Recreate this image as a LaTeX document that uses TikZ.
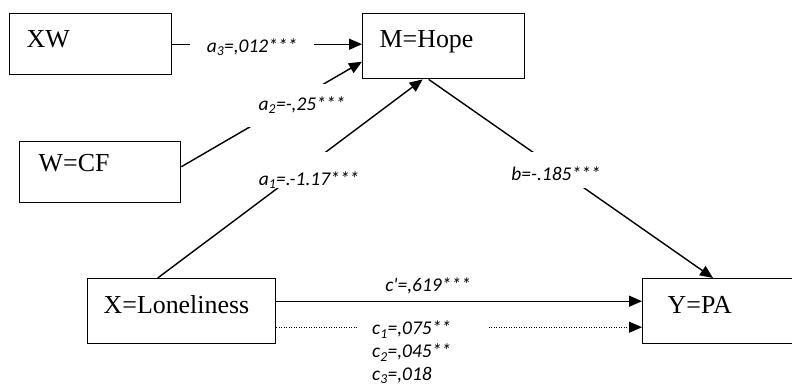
\documentclass[tikz,border=0pt]{standalone}
\usepackage{fontspec}
\setmainfont{Liberation Serif}
\newfontfamily\coeffont{Carlito}
\usetikzlibrary{arrows.meta}

\begin{document}
\begin{tikzpicture}[x = 1bp, y = -1bp,
  var/.style = {draw, line width = 1.4bp, anchor = north west, align = left, inner xsep = 17bp, inner ysep = 0pt, text height = 34bp, text depth = 30bp, font = \fontsize{26}{30}\selectfont},
  coef/.style = {fill = white, inner xsep = 2bp, inner ysep = 0pt, anchor = base, font = \coeffont\itshape\fontsize{19.5}{23}\selectfont},
  arr/.style = {line width = 1.4bp, -{Triangle[length = 13bp, width = 11bp]}}]
\useasboundingbox (0, 0) rectangle (792, 387);

\node[var, text width = 128bp, text depth = 27bp] (XW) at (9, 13) {XW};
\node[var, text width = 128bp, text depth = 31bp] (M) at (362, 13) {M=Hope};
\node[var, text width = 123bp, inner xsep = 19bp, text height = 30bp, text depth = 31bp] (W) at (19, 141) {W=CF};
\node[var, text width = 156bp, inner xsep = 16bp, text height = 35bp] (X) at (87, 278) {X=Loneliness};
\node[var, text width = 138bp, inner xsep = 25bp, text height = 35bp] (Y) at (642, 278) {Y=PA};

\draw[arr] (XW.east) -- (XW.east -| M.west);
\draw[arr] ([yshift = 5.5bp]W.east) -- ([yshift = -15.5bp]M.west);
\draw[arr] ([xshift = -24bp]X.north) -- ([xshift = -21bp]M.south);
\draw[arr] ([xshift = -15bp]M.south) -- ([xshift = 71bp]Y.north west);
\draw[arr] ([yshift = 10bp]X.east) -- ([yshift = 10bp]Y.west);
\draw[arr, line width = 0.8bp, dash pattern = on 1bp off 1.5bp] ([yshift = -16bp]X.east) -- ([yshift = -16bp]Y.west);

\node[coef, inner xsep = 17bp, text height = 16bp, text depth = 6bp] (a3) at (252, 52) {a\textsubscript{3}=,012***};
\node[coef, inner xsep = 12bp, text height = 26bp, text depth = 17bp] (a2) at (302, 110) {a\textsubscript{2}=-,25***};
\node[coef, text height = 33bp, text depth = 3bp] (a1) at (309, 185) {a\textsubscript{1}=.-1.17***};
\node[coef, text height = 28bp, text depth = 8bp] (b) at (556, 180) {b=-.185***};
\node[coef, fill = none] (c) at (428, 291) {c'=,619***};
\node[coef, anchor = north west, text width = 100bp, inner xsep = 15bp, inner ysep = 2bp, align = left] (cs) at (357, 319) {c\textsubscript{1}=,075**\\c\textsubscript{2}=,045**\\c\textsubscript{3}=,018};
\end{tikzpicture}
\end{document}
